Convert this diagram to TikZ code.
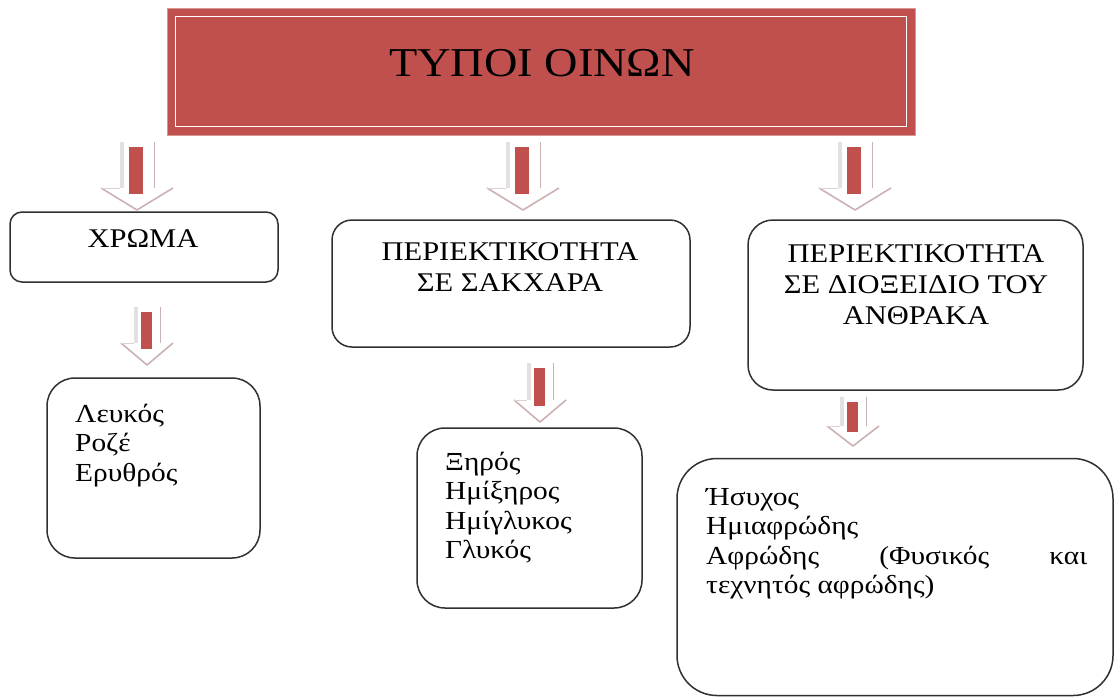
\documentclass[tikz,border=0pt]{standalone}
\usepackage{fontspec}
\setmainfont{Liberation Serif}[FakeStretch=1.13]
\usetikzlibrary{calc}
\definecolor{wred}{HTML}{C0504D}
\definecolor{aedge}{HTML}{CBB2B2}
\definecolor{ashade}{HTML}{E4E0E0}
\definecolor{bord}{HTML}{303030}
\newcommand\blockarrow[6]{%
  % #1 centre x, #2 top y, #3 tip y, #4 shaft half width, #5 head half width, #6 head height
  \fill[white] ({#1-#4},#2) -- ({#1-#4},{#3-#6}) -- ({#1-#5},{#3-#6}) -- (#1,#3)
     -- ({#1+#5},{#3-#6}) -- ({#1+#4},{#3-#6}) -- ({#1+#4},#2) -- cycle;
  \fill[ashade] ({#1-#4},#2) rectangle ({#1-#4+4},{#3-#6});
  \draw[aedge,line width=0.8pt] ({#1+#4},#2) -- ({#1+#4},{#3-#6});
  \draw[aedge,line width=1.6pt,line join=round] ({#1-#5},{#3-#6}) -- (#1,#3) -- ({#1+#5},{#3-#6});
  \draw[aedge!60,line width=0.8pt] ({#1-#4},{#3-#6}) -- ({#1-#5},{#3-#6});
  \fill[wred] ({#1-#4*0.5},{#2+5}) rectangle ({#1+#4*0.35},{#3-#6+6});
}
\begin{document}
\begin{tikzpicture}[x=1pt,y=-1pt,
  box/.style={draw=bord,line width=1.5pt,fill=white,inner sep=0pt},
  head/.style={inner sep=0pt,anchor=base,font=\fontsize{27}{31}\selectfont},
  body/.style={inner sep=0pt,anchor=base west,font=\fontsize{26}{29.5}\selectfont}]
\useasboundingbox (0,0) rectangle (1115,697);

% title
\node[fill=wred,draw=wred!60,line width=1pt,minimum width=748pt,minimum height=127pt,inner sep=0pt] (title) at (541,71.5) {};
\draw[white,line width=1.6pt] ($(title.north west)+(9,9)$) rectangle ($(title.south east)+(-9,-9)$);
\node[inner sep=0pt,anchor=base,font=\fontsize{41}{45}\selectfont] (titletext) at (542,76) {ΤΥΠΟΙ ΟΙΝΩΝ};

% boxes
\node[box,rounded corners=12pt,minimum width=268pt,minimum height=70pt] (chroma) at (144,247) {};
\node[box,rounded corners=28pt,minimum width=213pt,minimum height=180pt] (lefkos) at (153.5,468) {};
\node[box,rounded corners=20pt,minimum width=358pt,minimum height=127pt] (sakx) at (511,283.5) {};
\node[box,rounded corners=28pt,minimum width=225pt,minimum height=180pt] (xiros) at (529.5,518) {};
\node[box,rounded corners=25pt,minimum width=335pt,minimum height=170pt] (anthr) at (915.5,305) {};
\node[box,rounded corners=40pt,minimum width=436pt,minimum height=237pt] (afr) at (895,577) {};

% texts
\node[head] (chromat) at (143,247) {ΧΡΩΜΑ};
\node[head] (sakxt) at (510,260) {\begin{tabular}[t]{@{}c@{}}ΠΕΡΙΕΚΤΙΚΟΤΗΤΑ\\ ΣΕ ΣΑΚΧΑΡΑ\end{tabular}};
\node[head] (anthrt) at (916,262) {\begin{tabular}[t]{@{}c@{}}ΠΕΡΙΕΚΤΙΚΟΤΗΤΑ\\ ΣΕ ΔΙΟΞΕΙΔΙΟ ΤΟΥ\\ ΑΝΘΡΑΚΑ\end{tabular}};
\node[body] (lefkost) at (75,422) {\begin{tabular}[t]{@{}l@{}}Λευκός\\ Ροζέ\\ Ερυθρός\end{tabular}};
\node[body] (xirost) at (445,470) {\begin{tabular}[t]{@{}l@{}}Ξηρός\\ Ημίξηρος\\ Ημίγλυκος\\ Γλυκός\end{tabular}};
\node[body] (afrt) at (706,505) {\begin{tabular}[t]{@{}l@{}}Ήσυχος\\ Ημιαφρώδης\\ \makebox[381pt][s]{Αφρώδης\hfill(Φυσικός\hfill και}\\ τεχνητός αφρώδης)\end{tabular}};

% block arrows
\blockarrow{137}{142}{210}{17}{36}{22}
\blockarrow{523}{142}{210}{17}{36}{22}
\blockarrow{855}{142}{210}{17}{36}{22}
\blockarrow{147}{307}{365}{13}{26}{22}
\blockarrow{540}{363}{422}{13}{26}{22}
\blockarrow{853}{397}{446}{13}{26}{20}
\end{tikzpicture}
\end{document}
